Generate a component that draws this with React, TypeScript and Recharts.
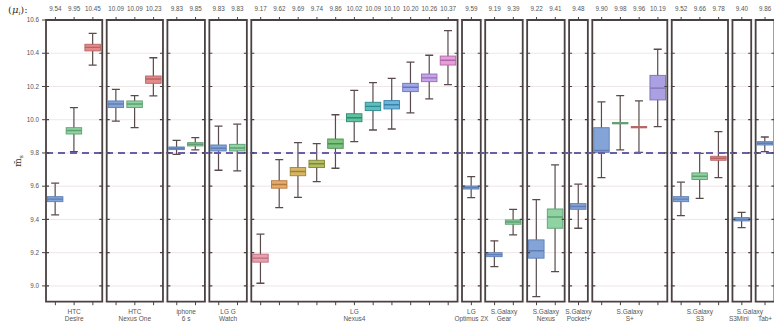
import React from 'react';
import {
  ComposedChart,
  Bar,
  Scatter,
  XAxis,
  YAxis,
  CartesianGrid,
  ReferenceLine,
  ReferenceArea,
} from 'recharts';

// ---------- data ----------
const panelLine1 = ['HTC', 'HTC', 'iphone', 'LG G', 'LG', 'LG', 'S.Galaxy', 'S.Galaxy', 'S.Galaxy', 'S.Galaxy', 'S.Galaxy', 'S.Galaxy', ''];
const panelLine2 = ['Desire', 'Nexus One', '6 s', 'Watch', 'Nexus4', 'Optimus 2X', 'Gear', 'Nexus', 'Pocket+', 'S+', 'S3', 'S3Mini', 'Tab+'];
const panelCounts = [3, 3, 2, 2, 11, 1, 2, 2, 1, 4, 3, 1, 1];

const meanLabels = [
  '9.54', '9.95', '10.45',
  '10.09', '10.09', '10.23',
  '9.83', '9.85',
  '9.83', '9.83',
  '9.17', '9.62', '9.69', '9.74', '9.86', '10.02', '10.09', '10.10', '10.20', '10.26', '10.37',
  '9.59',
  '9.19', '9.39',
  '9.22', '9.41',
  '9.48',
  '9.90', '9.98', '9.96', '10.19',
  '9.52', '9.66', '9.78',
  '9.40',
  '9.86',
];

const whiskerLow = [
  9.427, 9.808, 10.329,
  9.992, 9.952, 10.143,
  9.792, 9.818,
  9.696, 9.692,
  9.016, 9.471, 9.533, 9.628, 9.708, 9.868, 9.938, 9.944, 10.041, 10.125, 10.211,
  9.531,
  9.116, 9.307,
  8.936, 9.086,
  9.347,
  9.651, 9.818, 9.804, 9.958,
  9.423, 9.527, 9.651,
  9.351,
  9.808,
];
const quart1 = [
  9.507, 9.914, 10.414,
  10.073, 10.073, 10.219,
  9.82, 9.842,
  9.812, 9.812,
  9.143, 9.588, 9.663, 9.712, 9.828, 9.988, 10.055, 10.065, 10.169, 10.229, 10.329,
  9.583,
  9.176, 9.371,
  9.167, 9.347,
  9.461,
  9.804, 9.975, 9.951, 10.119,
  9.507, 9.64, 9.756,
  9.391,
  9.848,
];
const medians = [
  9.522, 9.935, 10.435,
  10.095, 10.095, 10.245,
  9.828, 9.852,
  9.828, 9.83,
  9.167, 9.61, 9.688, 9.735, 9.855, 10.012, 10.08, 10.09, 10.195, 10.252, 10.358,
  9.592,
  9.188, 9.385,
  9.212, 9.415,
  9.478,
  9.815, 9.979, 9.955, 10.19,
  9.522, 9.66, 9.768,
  9.4,
  9.858,
];
const quart3 = [
  9.537, 9.952, 10.454,
  10.113, 10.113, 10.263,
  9.836, 9.862,
  9.848, 9.852,
  9.191, 9.633, 9.712, 9.756, 9.884, 10.036, 10.105, 10.115, 10.219, 10.275, 10.383,
  9.601,
  9.2, 9.397,
  9.277, 9.463,
  9.495,
  9.952, 9.983, 9.959, 10.267,
  9.537, 9.68, 9.78,
  9.411,
  9.868,
];
const whiskerHigh = [
  9.618, 10.073, 10.52,
  10.183, 10.145, 10.373,
  9.876, 9.892,
  9.962, 9.973,
  9.311, 9.76, 9.862, 9.856, 10.03, 10.177, 10.223, 10.249, 10.347, 10.388, 10.536,
  9.657,
  9.271, 9.461,
  9.519, 9.728,
  9.612,
  10.107, 10.145, 10.113, 10.424,
  9.624, 9.798, 9.928,
  9.443,
  9.896,
];

const yTicks = [9.0, 9.2, 9.4, 9.6, 9.8, 10.0, 10.2, 10.4, 10.6];
const referenceValue = 9.8;

// ---------- styles ----------
const B = ['#84a3d6', '#5f7fb4'];
const G = ['#8fd3a2', '#5f9f72'];
const R = ['#e38b8b', '#b86464'];
const P = ['#aaa0e2', '#7c70b8'];
const nexusPalette = [
  ['#eb9fae', '#b96e7c'],
  ['#eaaa6c', '#b07a40'],
  ['#d6b662', '#9e8238'],
  ['#b5bd62', '#7f8738'],
  ['#7cc47e', '#4c8e52'],
  ['#5ec2a2', '#2f8c6e'],
  ['#5bbfc0', '#2e8a8c'],
  ['#6cb6dc', '#3a80a8'],
  ['#a0aaea', '#6a72b6'],
  ['#c8a3ea', '#9270b6'],
  ['#e79ddb', '#b068a4'],
];
const boxColors = [
  B, G, R,
  B, G, R,
  B, G,
  B, G,
  ...nexusPalette,
  B,
  B, G,
  B, G,
  B,
  B, G, R, P,
  B, G, R,
  B,
  B,
];
// horizontal nudges (px) of the two label lines, per panel
const line1Dx = [0, 0, 0, 0, 0, 0, 0, 0, 0, 0, 0, 8, 0];
const line2Dx = [0, 0, 0, 0, 0, 0, 0, 0, 0, 0, 0, -3, 0];

const GAP = 0.237;
const FRAME = '#4a4141';
const WHISKER = '#5a4b4b';
const TEXT = '#555';
const FONT = '"Liberation Sans", Arial, sans-serif';

// ---------- derived layout in axis units ----------
const panels: { start: number; end: number; center: number }[] = [];
{
  let s = 0;
  panelCounts.forEach((n) => {
    panels.push({ start: s, end: s + n, center: s + n / 2 });
    s += n + GAP;
  });
}
const totalX = panels[panels.length - 1].end;

const boxX: number[] = [];
panels.forEach((p, i) => {
  for (let k = 0; k < panelCounts[i]; k++) boxX.push(p.start + k + 0.5);
});

const data = boxX.map((x, i) => ({
  x,
  low: whiskerLow[i],
  q1: quart1[i],
  med: medians[i],
  q3: quart3[i],
  high: whiskerHigh[i],
  idx: i,
}));

const borderTicks: { x: number; y: number; dir: number }[] = [];
panels.forEach((p) => {
  yTicks.slice(0, -1).forEach((t) => {
    borderTicks.push({ x: p.start, y: t, dir: 1 });
    borderTicks.push({ x: p.end, y: t, dir: -1 });
  });
});

// ---------- shapes ----------
const BoxShape = (props: any) => {
  const { x, y, width, height, payload } = props;
  if (x == null || y == null) return null;
  const top = height >= 0 ? y : y + height;
  const h = Math.abs(height);
  const cx = x + width / 2;
  const span = payload.high - payload.low;
  const py = (v: number) => top + ((payload.high - v) / span) * h;
  const [fill, stroke] = boxColors[payload.idx];
  const bw = 15.5;
  const cap = 8;
  const yq3 = py(payload.q3);
  const yq1 = py(payload.q1);
  const ym = py(payload.med);
  return (
    <g>
      <line x1={cx} x2={cx} y1={top} y2={top + h} stroke={WHISKER} strokeWidth={1.2} />
      <line x1={cx - cap / 2} x2={cx + cap / 2} y1={top} y2={top} stroke={WHISKER} strokeWidth={1.3} />
      <line x1={cx - cap / 2} x2={cx + cap / 2} y1={top + h} y2={top + h} stroke={WHISKER} strokeWidth={1.3} />
      <rect
        x={cx - bw / 2}
        y={yq3}
        width={bw}
        height={Math.max(yq1 - yq3, 0.8)}
        fill={fill}
        stroke={stroke}
        strokeWidth={0.9}
      />
      <line x1={cx - bw / 2} x2={cx + bw / 2} y1={ym} y2={ym} stroke={stroke} strokeWidth={1.4} />
    </g>
  );
};

const BorderTickShape = (props: any) => {
  const { cx, cy, payload } = props;
  if (cx == null || cy == null) return null;
  return <line x1={cx} x2={cx + payload.dir * 3} y1={cy} y2={cy} stroke={FRAME} strokeWidth={1.2} />;
};

const NameTick = (props: any) => {
  const { x, y, payload } = props;
  const i = panels.findIndex((p) => Math.abs(p.center - payload.value) < 1e-6);
  if (i < 0) return null;
  return (
    <g>
      {panelLine1[i] ? (
        <text x={x + line1Dx[i]} y={y + 8.5} textAnchor="middle" fontSize={6.5} fill={TEXT} fontFamily={FONT}>
          {panelLine1[i]}
        </text>
      ) : null}
      <text x={x + line2Dx[i]} y={y + 15.5} textAnchor="middle" fontSize={6.5} fill={TEXT} fontFamily={FONT}>
        {panelLine2[i]}
      </text>
    </g>
  );
};

const meanFor = (v: number) => {
  const i = boxX.findIndex((b) => Math.abs(b - v) < 1e-6);
  return i >= 0 ? meanLabels[i] : '';
};

export default function App() {
  return (
    <div style={{ position: 'fixed', left: 0, top: 0, width: 774, height: 322, overflow: 'hidden', background: '#fff' }}>
      <ComposedChart
        width={776}
        height={322}
        data={data}
        margin={{ top: 0, right: 1.6, bottom: 0, left: 0 }}
        style={{ fontFamily: FONT }}
      >
        <CartesianGrid horizontal vertical={false} stroke="#eddede" strokeWidth={0.8} />
        <XAxis
          xAxisId="top"
          orientation="top"
          type="number"
          dataKey="x"
          domain={[0, totalX]}
          allowDataOverflow
          ticks={boxX}
          interval={0}
          height={20}
          axisLine={false}
          tickSize={3}
          tickMargin={6}
          tickLine={{ stroke: FRAME }}
          tick={{ fontSize: 6.3, fill: TEXT }}
          tickFormatter={meanFor}
          label={{
            content: (p: any) => {
              const vb = p.viewBox || { x: 46, y: 0 };
              return (
                <text x={vb.x - 38} y={12.5} fontSize={10} fill="#333" fontFamily="'DejaVu Serif', serif">
                  (<tspan fontStyle="italic">μ</tspan>
                  <tspan fontSize={6} dy={2} fontStyle="italic">i</tspan>
                  <tspan dy={-2}>):</tspan>
                </text>
              );
            },
          }}
        />
        <XAxis
          type="number"
          dataKey="x"
          domain={[0, totalX]}
          allowDataOverflow
          ticks={boxX}
          interval={0}
          height={4}
          axisLine={false}
          tickSize={3.5}
          tickLine={{ stroke: FRAME }}
          tickFormatter={() => ''}
        />
        <XAxis
          xAxisId="names"
          type="number"
          dataKey="x"
          domain={[0, totalX]}
          allowDataOverflow
          ticks={panels.map((p) => p.center)}
          interval={0}
          height={16.3}
          axisLine={false}
          tickLine={false}
          tickSize={0}
          tickMargin={0}
          tick={<NameTick />}
        />
        <YAxis
          type="number"
          domain={[8.905, 10.6]}
          allowDataOverflow
          ticks={yTicks}
          interval={0}
          width={46}
          axisLine={false}
          tickSize={4}
          tickMargin={3}
          tickLine={{ stroke: FRAME }}
          tick={{ fontSize: 6.3, fill: TEXT }}
          tickFormatter={(v: number) => v.toFixed(1)}
          label={{
            content: (p: any) => {
              const vb = p.viewBox || { y: 20, height: 282 };
              const cy = vb.y + vb.height / 2;
              return (
                <text
                  x={21}
                  y={cy}
                  transform={`rotate(-90 21 ${cy})`}
                  textAnchor="middle"
                  fontSize={9}
                  fill="#333"
                  fontFamily="'DejaVu Serif', serif"
                >
                  m̄<tspan fontSize={6} dy={2}>s</tspan>
                </text>
              );
            },
          }}
        />
        {panels.map((p, i) => (
          <ReferenceArea
            key={`frame-${i}`}
            x1={p.start}
            x2={p.end}
            fill="none"
            fillOpacity={0}
            stroke={FRAME}
            strokeWidth={1.8}
            ifOverflow="visible"
          />
        ))}
        <Scatter data={borderTicks} dataKey="y" shape={<BorderTickShape />} isAnimationActive={false} />
        <Bar
          dataKey={(d: any) => [d.low, d.high]}
          barSize={16}
          shape={<BoxShape />}
          isAnimationActive={false}
        />
        <ReferenceLine
          y={referenceValue}
          stroke="#6a5ea8"
          strokeWidth={2}
          strokeDasharray="7 5"
        />
      </ComposedChart>
    </div>
  );
}
